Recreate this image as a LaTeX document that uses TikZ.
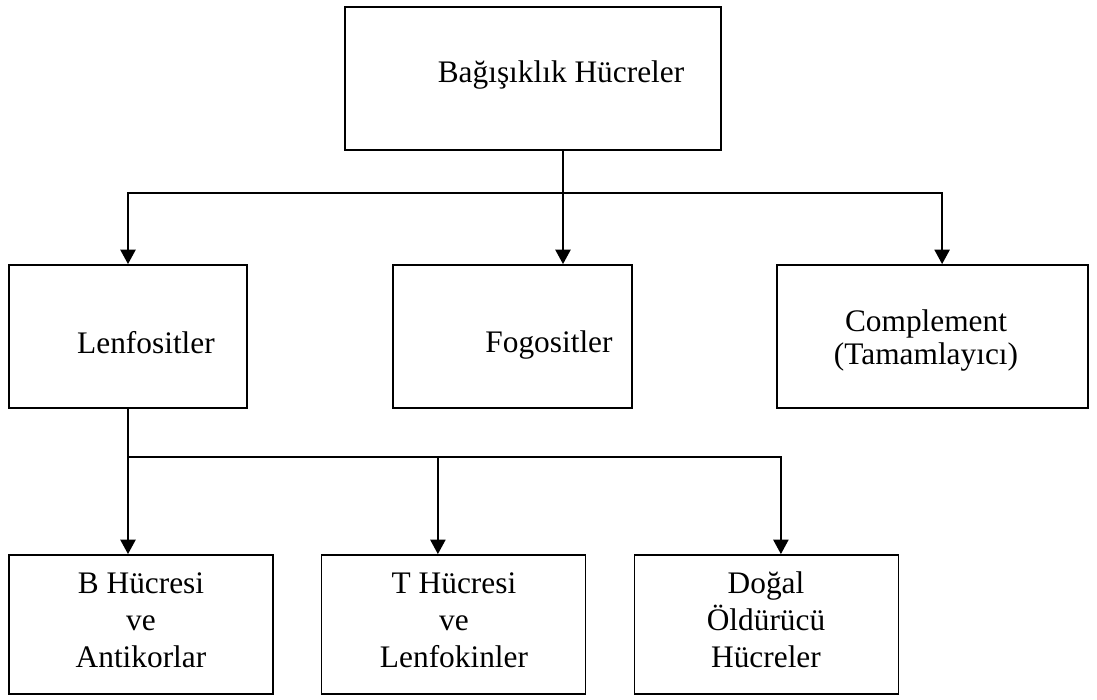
\documentclass[tikz,border=0pt]{standalone}
\usepackage{fontspec}
\setmainfont{Liberation Serif}
\usetikzlibrary{arrows.meta}

\begin{document}
\begin{tikzpicture}[
  x=0.025cm, y=-0.025cm,
  box/.style={draw, rectangle, line width=1.3pt, inner sep=0pt},
  topbox/.style={box, minimum width=9.4cm, minimum height=3.575cm},
  midbox/.style={box, minimum height=3.575cm},
  lowbox/.style={box, minimum width=6.6cm, minimum height=3.475cm},
  txt/.style={font=\fontsize{22.3}{26.3}\selectfont, align=center, inner sep=0pt, anchor=base},
  arrow/.style={-{Triangle[length=0.36cm, width=0.38cm]}, line width=1.2pt}
]
\useasboundingbox (0,0) rectangle (1097,699);

% boxes
\node[topbox] (top) at (533,78.5) {};
\node[midbox, minimum width=5.95cm] (lenf) at (128,336.5) {};
\node[midbox, minimum width=5.975cm] (fogo) at (512.5,336.5) {};
\node[midbox, minimum width=7.775cm] (compl) at (932.5,336.5) {};
\node[lowbox] (bhuc) at (141,624.5) {};
\node[lowbox] (thuc) at (453.5,624.5) {};
\node[lowbox] (dogal) at (766.5,624.5) {};

% texts (anchored on the baseline of the last line)
\node[txt] (ttop) at (561,82) {Bağışıklık Hücreler};
\node[txt] (tlenf) at (146,353) {Lenfositler};
\node[txt] (tfogo) at (549,352) {Fogositler};
\node[txt, font=\fontsize{22.3}{22.8}\selectfont] (tcompl) at (926,364) {Complement\\(Tamamlayıcı)};
\node[txt] (tbhuc) at (141,667) {B Hücresi\\ve\\Antikorlar};
\node[txt] (tthuc) at (454,667) {T Hücresi\\ve\\Lenfokinler};
\node[txt] (tdogal) at (766,667) {Doğal\\Öldürücü\\Hücreler};

% connectors
\coordinate (j1) at (563,193);
\draw[line width=1.2pt] (top.south -| j1) -- (j1);
\draw[arrow] (j1) -| (lenf.north);
\draw[arrow] (j1) -- (j1 |- fogo.north);
\draw[arrow] (j1) -| ([xshift=0.24cm]compl.north);

\coordinate (j2) at (128,457);
\draw[line width=1.2pt] (lenf.south) -- (j2);
\draw[arrow] (j2) -- (j2 |- bhuc.north);
\draw[arrow] (j2) -| ([xshift=-0.39cm]thuc.north);
\draw[arrow] (j2) -| ([xshift=0.36cm]dogal.north);

\end{tikzpicture}
\end{document}
